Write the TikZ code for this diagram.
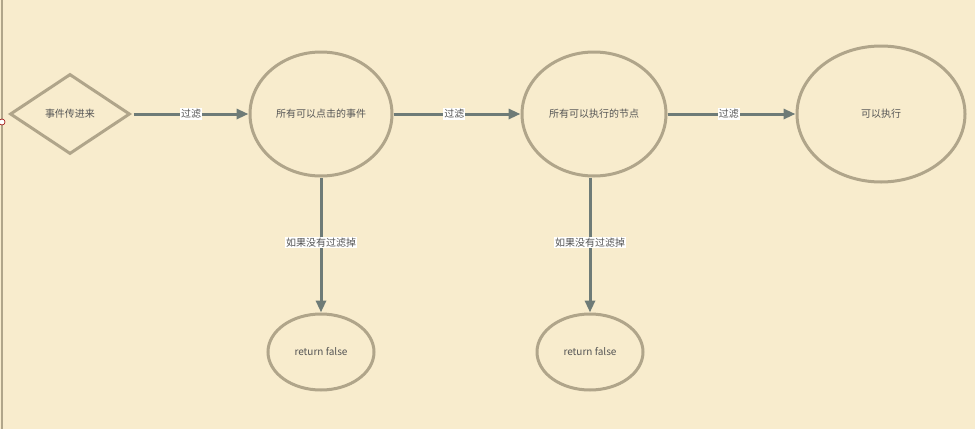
\documentclass[tikz,border=0pt]{standalone}
\usepackage{fontspec}
\setmainfont{Noto Sans CJK SC}
\usetikzlibrary{shapes.geometric,arrows.meta}
\definecolor{bg}{RGB}{248,236,205}
\definecolor{bord}{RGB}{176,165,138}
\definecolor{arr}{RGB}{110,123,119}
\definecolor{txt}{RGB}{85,85,85}
\begin{document}
\begin{tikzpicture}[x=1pt,y=-1pt,
  shp/.style={draw=bord,line width=3pt,text=txt,font=\fontsize{10}{12}\selectfont,inner sep=0pt},
  ell/.style={shp,ellipse},
  con/.style={draw=arr,line width=3pt,-{Triangle[length=12pt,width=10pt]}},
  lab/.style={fill=white,text=txt,font=\fontsize{10}{12}\selectfont,inner sep=1pt}]
\fill[bg] (0,0) rectangle (975,429);
\useasboundingbox (0,0) rectangle (975,429);
\draw[bord,line width=2pt] (2,0) -- (2,429);
\node[circle,draw=red!60!black,fill=white,minimum size=6pt,inner sep=0pt,line width=0.6pt] (pt) at (2,122) {};
\node[shp,diamond,minimum width=120pt,minimum height=80pt,aspect=1.5] (d) at (70,114) {事件传进来};
\node[ell,minimum width=142pt,minimum height=124pt] (e1) at (321,114) {所有可以点击的事件};
\node[ell,minimum width=144pt,minimum height=124pt] (e2) at (594,114) {所有可以执行的节点};
\node[ell,minimum width=168pt,minimum height=136pt] (e3) at (881,114) {可以执行};
\node[ell,minimum width=106pt,minimum height=76pt] (r1) at (321,352) {return false};
\node[ell,minimum width=106pt,minimum height=76pt] (r2) at (590,352) {return false};
\draw[con] (d.east) ++(2,0) coordinate (a0) (a0) -- (e1.west) node[lab,pos=0.5] {过滤};
\draw[con] (e1.east) -- (e2.west) node[lab,pos=0.48] {过滤};
\draw[con] (e2.east) -- (e3.west) node[lab,pos=0.48] {过滤};
\draw[con] (e1.south) -- (r1.north) node[lab,pos=0.48] {如果没有过滤掉};
\draw[con] (e2.south -| r2.north) -- (r2.north) node[lab,pos=0.48] {如果没有过滤掉};
\end{tikzpicture}
\end{document}
